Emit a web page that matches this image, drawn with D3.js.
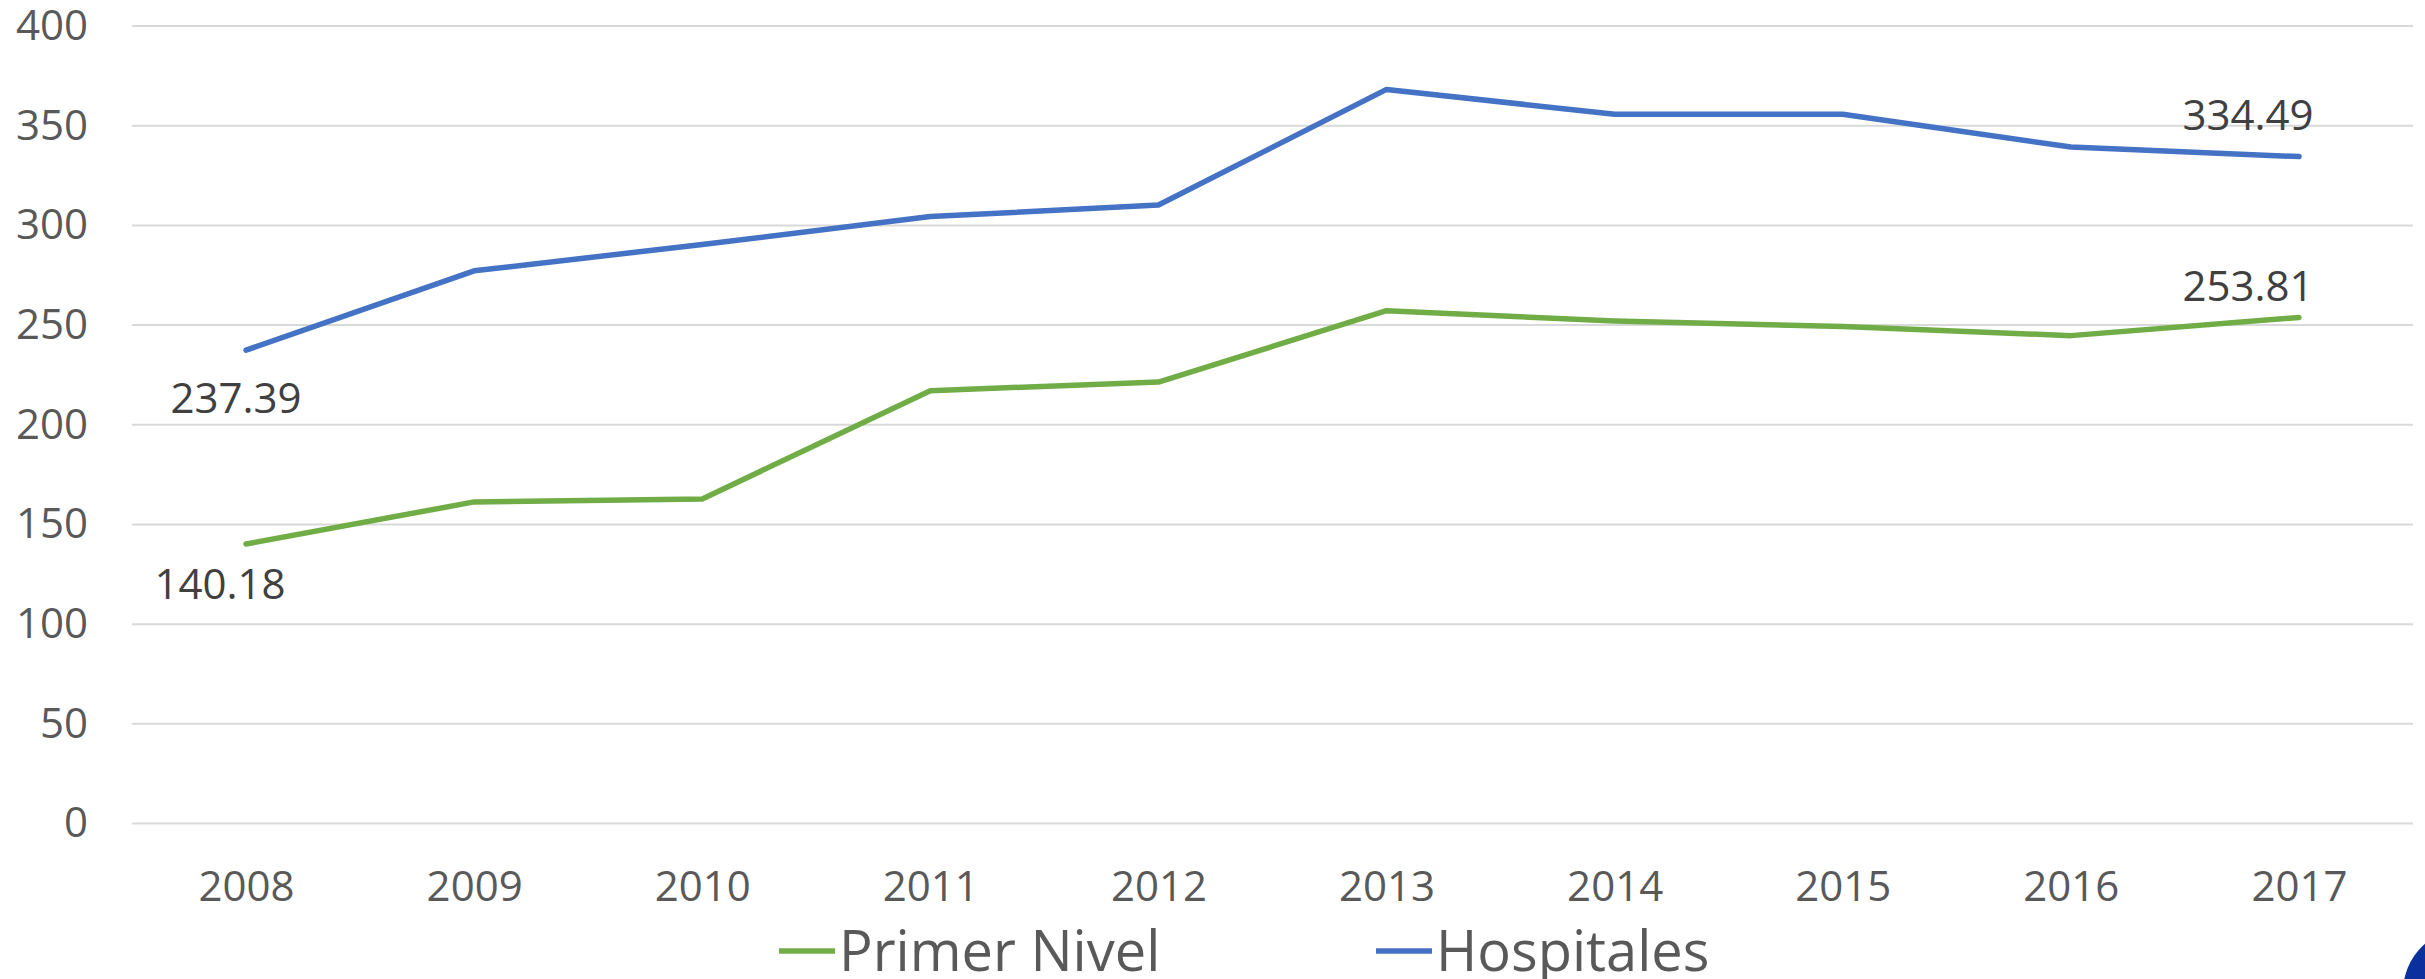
<!DOCTYPE html>
<html>
<head>
<meta charset="utf-8">
<script src="https://cdn.jsdelivr.net/npm/d3@7"></script>
<style>
  html, body { margin: 0; padding: 0; background: #fff; }
  svg { display: block; font-family: "Open Sans", sans-serif; }
</style>
</head>
<body>
<div id="chart"></div>
<script>
// chart values
const years = ["2008", "2009", "2010", "2011", "2012", "2013", "2014", "2015", "2016", "2017"];
const primerNivel = [140.18, 161.3, 162.8, 217.1, 221.4, 257.2, 252.0, 249.3, 244.7, 253.81];
const hospitales = [237.39, 277.2, 290.4, 304.4, 310.2, 368.2, 355.7, 355.7, 339.3, 334.49];
const yTicks = [0, 50, 100, 150, 200, 250, 300, 350, 400];

const seriesNames = ["Primer Nivel", "Hospitales"];
const seriesColors = ["#70ad47", "#4472c4"];

const W = 2425, H = 979;
const margin = {top: 26, right: 12, bottom: 156, left: 132};

const svg = d3.select("#chart")
  .append("svg")
  .attr("width", W)
  .attr("height", H);

/**
 * Scales
 */
const x = d3.scalePoint()
  .domain(years)
  .range([margin.left, W - margin.right])
  .padding(0.5);

const y = d3.scaleLinear()
  .domain([0, 400])
  .range([H - margin.bottom + 0.5, margin.top]);

// gridlines
svg.append("g")
  .selectAll("line")
  .data(yTicks)
  .enter()
  .append("line")
    .attr("x1", margin.left)
    .attr("x2", W - margin.right)
    .attr("y1", d => y(d))
    .attr("y2", d => y(d))
    .style("stroke", "#d9d9d9")
    .style("stroke-width", 2);

// y axis labels
const yAxis = svg.append("g")
  .attr("transform", `translate(${margin.left}, 0)`)
  .call(d3.axisLeft(y).tickValues(yTicks).tickSize(0).tickPadding(44));
yAxis.select(".domain").remove();
yAxis.selectAll("text")
  .style("font-family", "'Open Sans', sans-serif")
  .style("font-size", "42px")
  .style("fill", "#595959");

// x axis labels
const xAxis = svg.append("g")
  .attr("transform", `translate(0, ${H - margin.bottom})`)
  .call(d3.axisBottom(x).tickSize(0).tickPadding(48));
xAxis.select(".domain").remove();
xAxis.selectAll("text")
  .style("font-family", "'Open Sans', sans-serif")
  .style("font-size", "42px")
  .style("fill", "#595959");

/**
 * Lines
 */
const line = d3.line()
  .x((d, i) => x(years[i]))
  .y(d => y(d));

[primerNivel, hospitales].forEach((vals, k) => {
  svg.append("path")
    .datum(vals)
    .attr("d", line)
    .style("fill", "none")
    .style("stroke", seriesColors[k])
    .style("stroke-width", 5.5)
    .style("stroke-linejoin", "round")
    .style("stroke-linecap", "round");
});

/**
 * Data labels on the first and last points
 */
const labels = [
  {vals: hospitales, i: 0, dx: -10, dy: 46},
  {vals: primerNivel, i: 0, dx: -26, dy: 38},
  {vals: hospitales, i: 9, dx: -51, dy: -43},
  {vals: primerNivel, i: 9, dx: -51, dy: -33}
];
svg.append("g")
  .selectAll("text")
  .data(labels)
  .enter()
  .append("text")
    .attr("x", d => x(years[d.i]) + d.dx)
    .attr("y", d => y(d.vals[d.i]) + d.dy)
    .attr("text-anchor", "middle")
    .attr("dominant-baseline", "central")
    .style("font-size", "42px")
    .style("fill", "#404040")
    .text(d => d.vals[d.i].toFixed(2));

/**
 * Legend
 */
const legendX = [779, 1376];
const legend = svg.append("g")
  .selectAll("g")
  .data(seriesNames)
  .enter()
  .append("g")
    .attr("transform", (d, i) => `translate(${legendX[i]}, 951)`);
legend.append("line")
  .attr("x1", 0).attr("x2", 56)
  .attr("y1", 0).attr("y2", 0)
  .style("stroke", (d, i) => seriesColors[i])
  .style("stroke-width", 5.5);
legend.append("text")
  .attr("x", 60)
  .attr("y", 20)
  .style("font-size", "56px")
  .style("fill", "#595959")
  .text(d => d);

// corner logo fragment
svg.append("circle")
  .attr("cx", 2467)
  .attr("cy", 992)
  .attr("r", 64)
  .style("fill", "#0b2f9c");
</script>
</body>
</html>
